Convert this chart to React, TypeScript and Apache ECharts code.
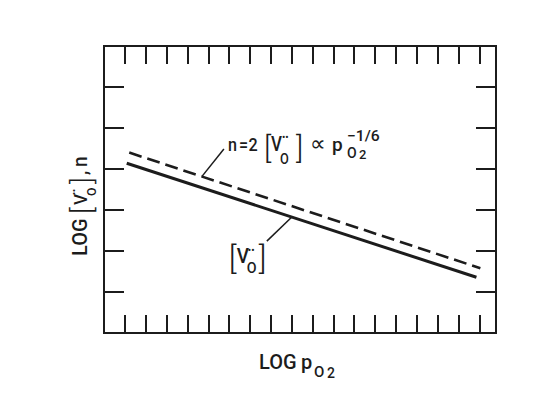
import React, { useEffect, useRef } from "react";
import * as echarts from "echarts";

// ---- data (axis units: arbitrary log units) ----
const xTicks = [1, 2, 3, 4, 5, 6, 7, 8, 9, 10, 11, 12, 13, 14, 15, 16, 17, 18];
const yTicks = [1, 2, 3, 4, 5, 6];
const xRange = [0, 18.8];
const yRange = [0, 7];
// [V_O••]  (solid)
const vacancyLine = [
  [1.09, 4.14],
  [17.86, 1.36],
];
// n = 2[V_O••]  (dashed)
const electronLine = [
  [1.21, 4.4],
  [18.05, 1.58],
];
// leader lines from the curves to their labels
const nLeader = [
  [4.7, 3.82],
  [5.75, 4.49],
];
const vLeader = [
  [9.01, 2.83],
  [7.81, 2.24],
];

const INK = "#1c1c1c";
const FONT = 'Roboto, "Liberation Sans", Arial, sans-serif';

function piece(
  text: string,
  x: number,
  base: number,
  size: number,
  sx = 0.95,
  weight = 500
) {
  return {
    type: "text",
    x,
    y: base - 0.35 * size,
    scaleX: sx,
    silent: true,
    style: {
      text,
      font: `${weight} ${size}px ${FONT}`,
      fill: INK,
      align: "left",
      verticalAlign: "middle",
      textAlign: "left",
      textVerticalAlign: "middle",
    },
  };
}
const bracket = (t: string, x: number, base: number, size: number) =>
  piece(t, x, base, size, 1, 300);
function dots(x: number, cy: number, size: number) {
  return {
    type: "text",
    x,
    y: cy,
    silent: true,
    style: {
      text: "••",
      font: `${size}px ${FONT}`,
      fill: INK,
      align: "left",
      verticalAlign: "middle",
      textAlign: "left",
      textVerticalAlign: "middle",
    },
  };
}

export default function App() {
  const ref = useRef<HTMLDivElement>(null);
  useEffect(() => {
    document.body.style.margin = "0";
    document.body.style.background = "#ffffff";
    const chart = echarts.init(ref.current!, null, { renderer: "svg" });
    const axisCommon = {
      type: "value",
      axisLine: { show: false, onZero: false },
      axisLabel: { show: false },
      splitLine: { show: false },
    };
    chart.setOption({
      animation: false,
      backgroundColor: "#ffffff",
      grid: {
        left: 104,
        top: 46,
        width: 392,
        height: 287,
        show: true,
        borderColor: INK,
        borderWidth: 2,
        backgroundColor: "transparent",
      },
      xAxis: ["bottom", "top"].map((pos) => ({
        ...axisCommon,
        position: pos,
        min: xRange[0],
        max: xRange[1],
        interval: 1,
        axisTick: {
          show: true,
          inside: true,
          length: 18,
          customValues: xTicks,
          lineStyle: { color: INK, width: 2 },
        },
      })),
      yAxis: ["left", "right"].map((pos) => ({
        ...axisCommon,
        position: pos,
        min: yRange[0],
        max: yRange[1],
        interval: 1,
        axisTick: {
          show: true,
          inside: true,
          length: 20,
          customValues: yTicks,
          lineStyle: { color: INK, width: 2 },
        },
      })),
      series: [
        {
          type: "line",
          data: electronLine,
          symbol: "none",
          lineStyle: { color: INK, width: 2.6, type: [13, 6] },
        },
        {
          type: "line",
          data: vacancyLine,
          symbol: "none",
          lineStyle: { color: INK, width: 3 },
        },
        {
          type: "line",
          data: nLeader,
          symbol: "none",
          lineStyle: { color: INK, width: 1.5 },
        },
        {
          type: "line",
          data: vLeader,
          symbol: "none",
          lineStyle: { color: INK, width: 1.5 },
        },
      ],
    });

    const nA = chart.convertToPixel({ gridIndex: 0 }, nLeader[1]) as number[];
    const vA = chart.convertToPixel({ gridIndex: 0 }, vLeader[1]) as number[];

    chart.setOption({
      graphic: [
        {
          type: "group",
          x: nA[0],
          y: nA[1],
          children: [
            piece("n", 4, 2, 19, 0.85),
            piece("=", 15, 2, 19, 0.85),
            piece("2", 24.5, 2, 19, 0.85),
            bracket("[", 40, 9, 30),
            piece("V", 47, 3, 20, 0.85),
            dots(58, -11, 10),
            piece("O", 56, 15, 15, 0.85),
            bracket("]", 72, 9, 30),
            piece("∝", 86, 2, 22, 1),
            piece("p", 108, 2, 19, 1),
            piece("−1/6", 123, -8, 15, 1.05),
            piece("O", 123, 9, 14, 1),
            piece("2", 135, 10, 13, 1),
          ],
        },
        {
          type: "group",
          x: vA[0],
          y: vA[1],
          children: [
            bracket("[", -38, 28, 32),
            piece("V", -30, 22, 20, 0.95),
            dots(-19, 9, 10),
            piece("O", -20, 32, 15, 0.95),
            bracket("]", -8, 28, 32),
          ],
        },
        {
          type: "group",
          x: 87,
          y: 256,
          rotation: Math.PI / 2,
          children: [
            piece("LOG", 0, 0, 20, 1),
            bracket("[", 42, 5, 28),
            piece("V", 51, 0, 18),
            dots(61, -13, 9),
            piece("O", 60, 9, 13),
            bracket("]", 72, 5, 28),
            piece(",", 81, 0, 20),
            piece("n", 89, 0, 20),
          ],
        },
        {
          type: "group",
          x: 0,
          y: 0,
          children: [
            piece("LOG", 259, 369, 20, 1),
            piece("p", 301, 369, 20, 1),
            piece("O", 314, 377, 15, 1),
            piece("2", 327, 378, 14, 1),
          ],
        },
      ],
    });
    return () => chart.dispose();
  }, []);
  return (
    <div
      ref={ref}
      style={{ position: "absolute", left: 0, top: 0, width: 538, height: 400 }}
    />
  );
}
